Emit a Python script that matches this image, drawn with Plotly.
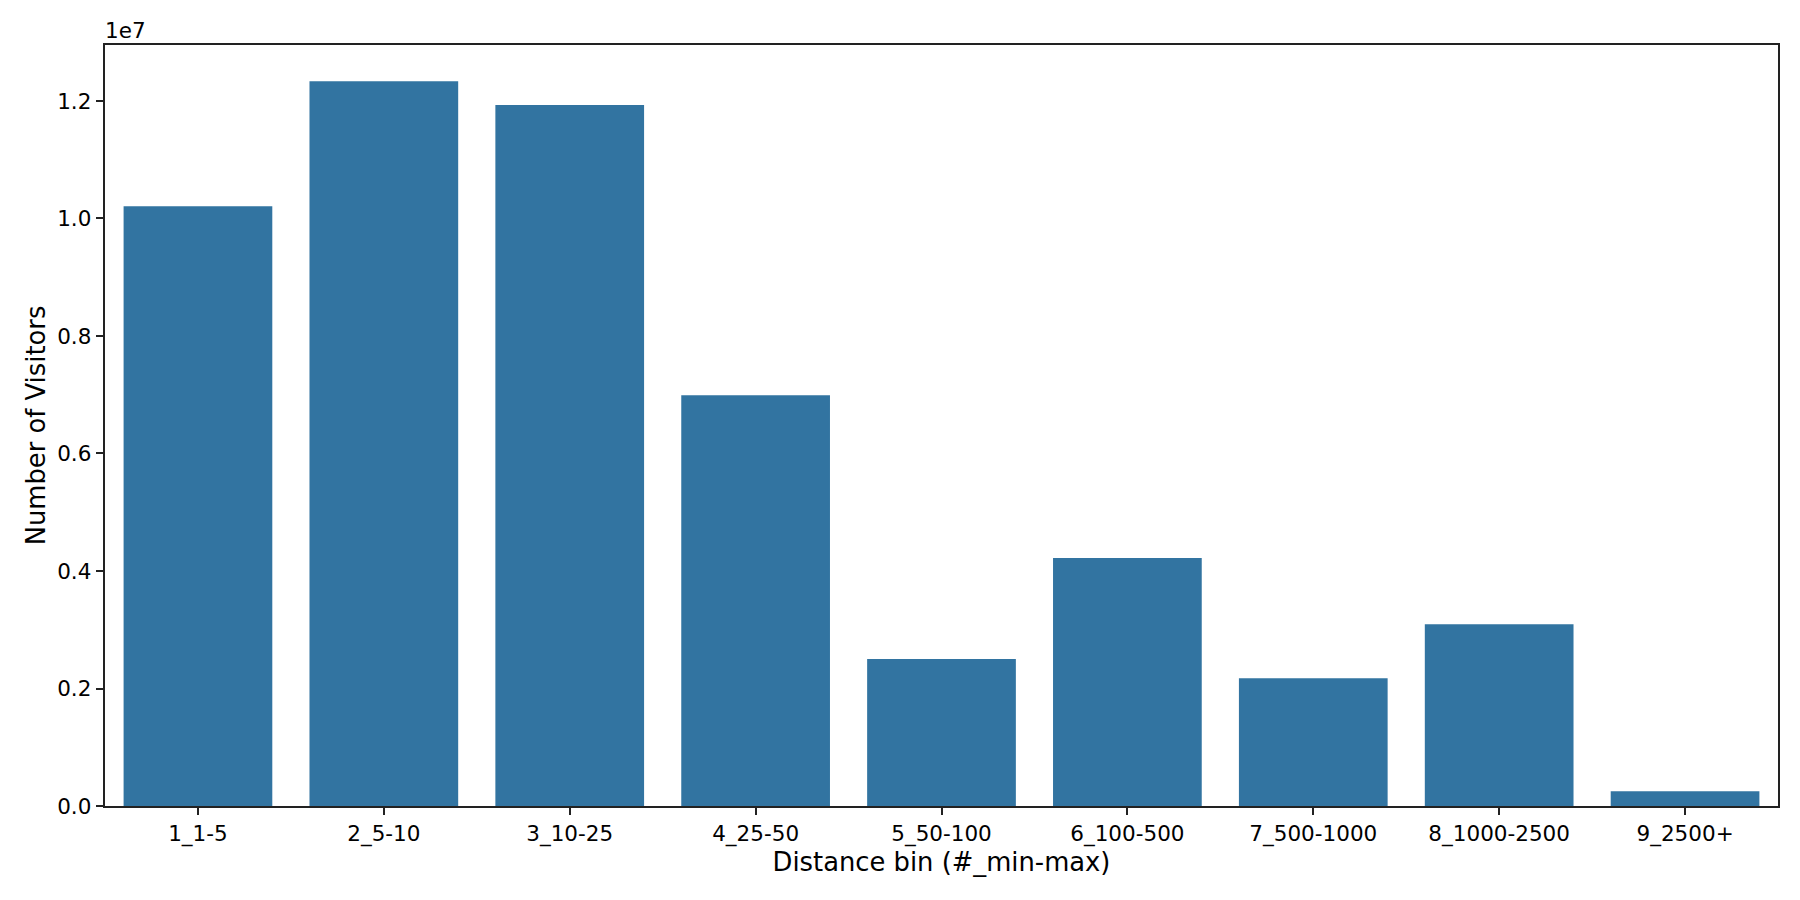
import plotly.graph_objects as go

# distance bins and visitor counts
bins = ["1_1-5", "2_5-10", "3_10-25", "4_25-50", "5_50-100",
        "6_100-500", "7_500-1000", "8_1000-2500", "9_2500+"]
visitors = [10.21e6, 12.335e6, 11.93e6, 6.99e6, 2.50e6,
            4.22e6, 2.175e6, 3.095e6, 0.25e6]

y_tickvals = [0, 0.2e7, 0.4e7, 0.6e7, 0.8e7, 1.0e7, 1.2e7]
y_ticktext = ["0.0", "0.2", "0.4", "0.6", "0.8", "1.0", "1.2"]

FONT = "DejaVu Sans"
AXIS_COLOR = "#222222"

fig = go.Figure()
fig.add_trace(go.Bar(
    x=bins, y=visitors,
    marker=dict(color="#3274a1", line=dict(width=0)),
    width=0.8,
))

# page body has an 8px margin, so the figure is a bit smaller than the window
fig.update_layout(
    width=1792, height=892,
    margin=dict(l=97, r=22, t=37, b=94),
    paper_bgcolor="white", plot_bgcolor="white",
    font=dict(family=FONT, color="black", size=21.5),
    showlegend=False,
    bargap=0.2,
)

fig.update_xaxes(
    title=dict(text="Distance bin (#_min-max)", font=dict(size=25.8), standoff=6),
    range=[-0.5, 8.5],
    showline=True, linecolor=AXIS_COLOR, linewidth=1.7, mirror=True,
    ticks="outside", ticklen=7.5, tickwidth=1.7, tickcolor=AXIS_COLOR,
    showgrid=False, zeroline=False,
)
fig.update_yaxes(
    title=dict(text="Number of Visitors", font=dict(size=25.8), standoff=4),
    range=[0, 1.2953e7],
    tickvals=y_tickvals, ticktext=y_ticktext,
    showline=True, linecolor=AXIS_COLOR, linewidth=1.7, mirror=True,
    ticks="outside", ticklen=7.5, tickwidth=1.7, tickcolor=AXIS_COLOR,
    showgrid=False, zeroline=False,
)

# matplotlib-style offset text above the y axis
fig.add_annotation(
    text="1e7", xref="paper", yref="paper", x=0, y=1,
    xanchor="left", yanchor="bottom", showarrow=False,
    font=dict(size=21.5, family=FONT), xshift=-2, yshift=0,
)

fig.write_html("out.html")
